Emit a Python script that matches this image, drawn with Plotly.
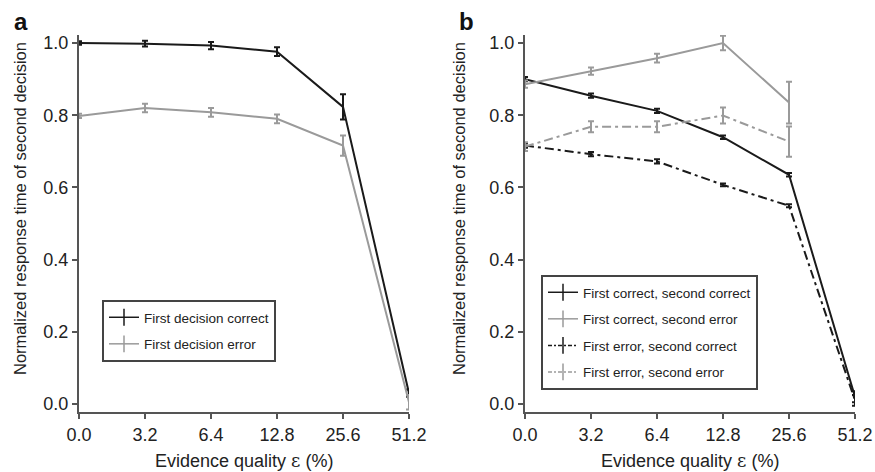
import plotly.graph_objects as go

categories = ["0.0", "3.2", "6.4", "12.8", "25.6", "51.2"]

# Panel a
a_correct = [1.000, 0.998, 0.993, 0.976, 0.823, 0.030]
a_correct_err = [0.005, 0.008, 0.010, 0.012, 0.035, 0.010]
a_error = [0.798, 0.820, 0.808, 0.790, 0.716, 0.005]
a_error_err = [0.006, 0.012, 0.012, 0.012, 0.028, 0.020]

# Panel b
b_cc = [0.900, 0.854, 0.812, 0.739, 0.635, 0.020]
b_cc_err = [0.006, 0.006, 0.006, 0.005, 0.005, 0.015]
b_ce = [0.886, 0.922, 0.958, 1.000, 0.835]
b_ce_err = [0.010, 0.010, 0.012, 0.020, 0.058]
b_ec = [0.716, 0.692, 0.672, 0.607, 0.549, 0.010]
b_ec_err = [0.006, 0.006, 0.006, 0.004, 0.004, 0.015]
b_ee = [0.713, 0.768, 0.768, 0.799, 0.727]
b_ee_err = [0.012, 0.015, 0.015, 0.022, 0.042]

yticks = [0.0, 0.2, 0.4, 0.6, 0.8, 1.0]

BLACK = "#1a1a1a"
GRAY = "#9a9a9a"
DASH = "9px,4px,3px,4px"

W, H = 875, 472
fig = go.Figure()

def add_series(xa, ya, y, err, color, dash, name, legend):
    xs = list(range(len(y)))
    fig.add_trace(go.Scatter(
        x=xs, y=y, mode="lines", xaxis=xa, yaxis=ya,
        line=dict(color=color, width=2, dash=dash),
        error_y=dict(type="data", array=err, color=color, thickness=2, width=3),
        showlegend=False, cliponaxis=False,
    ))
    fig.add_trace(go.Scatter(
        x=[None], y=[None], mode="lines+markers", xaxis=xa, yaxis=ya,
        line=dict(color=color, width=1.5, dash=("4px,2px,2px,2px" if dash != "solid" else "solid")),
        marker=dict(symbol="line-ns-open", size=12, line=dict(color=color, width=1.5)),
        name=name, legend=legend, legendgroup=name, showlegend=True,
    ))

add_series("x", "y", a_correct, a_correct_err, BLACK, "solid", "First decision correct", "legend")
add_series("x", "y", a_error, a_error_err, GRAY, "solid", "First decision error", "legend")
add_series("x2", "y2", b_cc, b_cc_err, BLACK, "solid", "First correct, second correct", "legend2")
add_series("x2", "y2", b_ce, b_ce_err, GRAY, "solid", "First correct, second error", "legend2")
add_series("x2", "y2", b_ec, b_ec_err, BLACK, DASH, "First error, second correct", "legend2")
add_series("x2", "y2", b_ee, b_ee_err, GRAY, DASH, "First error, second error", "legend2")

def px(x):
    return x / W

def py(y):
    return 1 - y / H

ydom = [py(412), py(35)]
yrange = [-8 / 361, 1 + 8 / 361]
axis_common = dict(showline=True, linecolor="#555555", linewidth=2, ticks="outside",
                   ticklen=5, tickwidth=2, tickcolor="#555555", showgrid=False,
                   zeroline=False, automargin=False,
                   tickfont=dict(size=18, color="#222222"))

legend_common = dict(xanchor="left", yanchor="top", bordercolor="#444444", borderwidth=2,
                     bgcolor="white", font=dict(size=13.5, color="#222222"),
                     traceorder="grouped", tracegroupgap=6, itemwidth=30)

fig.update_layout(
    width=W, height=H, margin=dict(l=0, r=0, t=0, b=0, autoexpand=False),
    plot_bgcolor="white", paper_bgcolor="white",
    font=dict(family="Liberation Sans, Arial, sans-serif", color="#222222"),
    xaxis=dict(domain=[px(79), px(409)], range=[0, 5], tickmode="array",
               tickvals=list(range(6)), ticktext=categories, anchor="y", **axis_common),
    yaxis=dict(domain=ydom, range=yrange, tickmode="array", tickvals=yticks,
               ticktext=[f"{v:.1f}" for v in yticks], anchor="x", **axis_common),
    xaxis2=dict(domain=[px(525), px(855)], range=[0, 5], tickmode="array",
                tickvals=list(range(6)), ticktext=categories, anchor="y2", **axis_common),
    yaxis2=dict(domain=ydom, range=yrange, tickmode="array", tickvals=yticks,
                ticktext=[f"{v:.1f}" for v in yticks], anchor="x2", **axis_common),
    legend=dict(x=px(102), y=py(300), **legend_common),
    legend2=dict(x=px(541), y=py(275), **legend_common),
)

ytitle = "Normalized response time of second decision"
xtitle = 'Evidence quality <span style="font-family:DejaVu Serif">ε</span> (%)'
for xl, xmid, lab, labx in [(20, 244, "a", 12), (459, 690, "b", 457)]:
    fig.add_annotation(text=ytitle, x=px(xl), y=py(209), xref="paper", yref="paper",
                       textangle=-90, showarrow=False, font=dict(size=16.5, color="#222222"),
                       xanchor="center", yanchor="middle")
    fig.add_annotation(text=xtitle, x=px(xmid), y=py(460), xref="paper", yref="paper",
                       showarrow=False, font=dict(size=18, color="#222222"),
                       xanchor="center", yanchor="middle")
    fig.add_annotation(text=f"<b>{lab}</b>", x=px(labx), y=py(22), xref="paper", yref="paper",
                       showarrow=False, font=dict(size=24, color="#111111"),
                       xanchor="left", yanchor="middle")

fig.write_html(
    "out.html",
    config={"displayModeBar": False},
    post_script="document.body.style.margin='0';document.body.style.overflow='hidden';",
)
